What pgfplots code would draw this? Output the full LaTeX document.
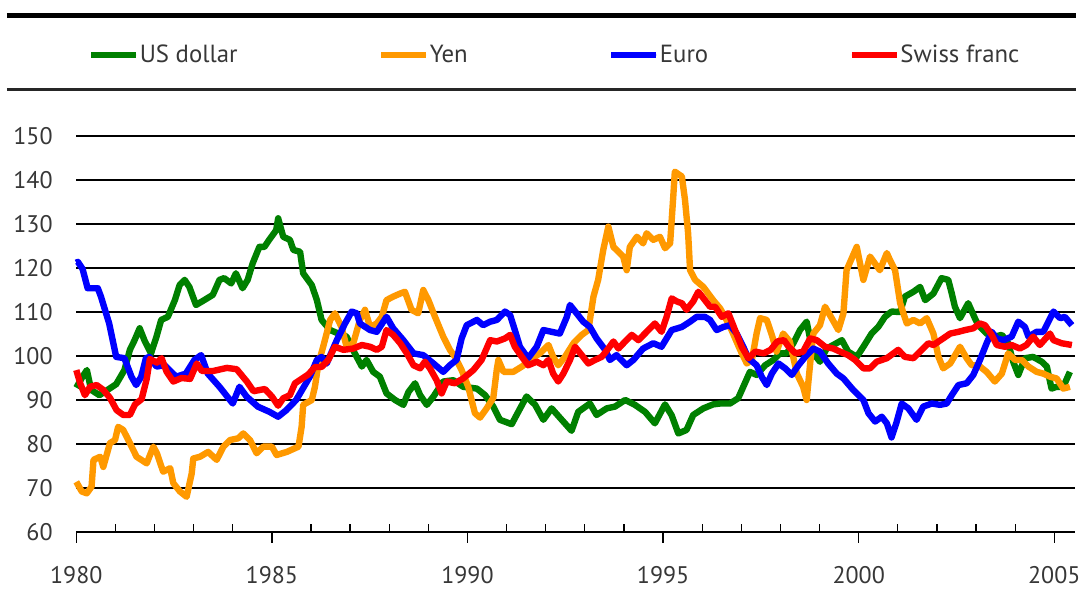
\documentclass[border=0pt]{standalone}
\usepackage{fontspec}
\setmainfont{PT Sans}
\usepackage{pgfplots}
\usepackage{pgfplotstable}
\pgfplotsset{compat=1.18}
\definecolor{usd}{RGB}{0,128,0}
\definecolor{yen}{RGB}{255,153,0}
\definecolor{eur}{RGB}{0,0,255}
\definecolor{chf}{RGB}{255,0,0}
\definecolor{txt}{RGB}{55,55,55}

\pgfplotstableread{
year value
1980.00 92.8
1980.16 95.3
1980.27 96.8
1980.38 92.3
1980.59 91.1
1980.80 92.3
1981.02 93.6
1981.23 96.8
1981.37 101.4
1981.49 103.6
1981.62 106.3
1981.74 103.6
1981.91 100.6
1982.05 104.4
1982.17 108.2
1982.34 108.9
1982.52 112.7
1982.64 116.1
1982.77 117.3
1982.89 115.7
1983.06 111.6
1983.27 112.7
1983.49 113.9
1983.66 117.3
1983.78 117.7
1983.96 116.5
1984.08 118.8
1984.25 115.4
1984.38 117.3
1984.51 121.1
1984.68 124.8
1984.81 124.8
1984.93 126.4
1985.11 128.6
1985.16 131.3
1985.29 127.1
1985.46 126.4
1985.55 124.1
1985.72 123.7
1985.80 118.8
1986.02 116.1
1986.15 112.7
1986.27 108.2
1986.49 105.9
1986.70 105.1
1986.91 104.4
1987.12 100.6
1987.30 97.6
1987.42 99.1
1987.59 96.4
1987.76 95.3
1987.93 91.5
1988.15 90.0
1988.36 88.9
1988.49 91.8
1988.66 93.8
1988.79 91.1
1988.96 88.9
1989.13 90.8
1989.38 94.2
1989.64 94.5
1989.89 93.0
1990.24 92.6
1990.45 91.1
1990.66 88.5
1990.83 85.5
1991.13 84.5
1991.34 88.0
1991.51 90.8
1991.73 88.9
1991.94 85.5
1992.15 88.1
1992.41 85.5
1992.66 83.0
1992.83 87.3
1993.13 89.2
1993.30 86.6
1993.56 88.1
1993.77 88.5
1994.03 90.0
1994.28 88.9
1994.54 87.3
1994.79 84.7
1995.05 89.0
1995.22 86.5
1995.39 82.4
1995.60 83.2
1995.77 86.6
1996.03 88.1
1996.28 89.0
1996.46 89.2
1996.71 89.2
1996.92 90.4
1997.05 93.0
1997.22 96.4
1997.39 95.7
1997.61 97.9
1997.82 99.1
1997.99 100.6
1998.16 100.6
1998.33 102.9
1998.50 105.9
1998.67 107.8
1998.80 102.1
1998.88 100.2
1999.01 98.7
1999.18 101.7
1999.35 102.5
1999.57 103.6
1999.73 101.0
1999.95 99.8
2000.12 102.1
2000.33 105.1
2000.50 106.6
2000.67 108.9
2000.84 110.1
2001.06 110.0
2001.18 113.5
2001.40 114.6
2001.57 115.7
2001.70 112.7
2001.91 114.2
2002.12 117.7
2002.29 117.3
2002.38 114.2
2002.46 111.2
2002.59 108.6
2002.80 112.0
2002.97 108.6
2003.06 107.0
2003.27 105.1
2003.48 104.4
2003.66 104.8
2003.82 102.9
2003.95 98.7
2004.08 95.7
2004.25 99.5
2004.46 99.8
2004.68 98.7
2004.81 97.6
2004.93 92.6
2005.06 93.0
2005.23 93.0
2005.40 96.4
}\usdtab

\pgfplotstableread{
year value
1980.00 71.4
1980.14 69.2
1980.27 68.8
1980.39 70.3
1980.44 76.4
1980.61 77.1
1980.69 74.8
1980.86 80.2
1980.99 80.9
1981.07 83.9
1981.20 83.2
1981.37 80.2
1981.54 77.1
1981.80 75.6
1981.97 79.4
1982.06 77.9
1982.22 73.7
1982.40 74.5
1982.48 71.1
1982.65 69.2
1982.82 68.0
1982.95 73.3
1982.99 76.7
1983.16 77.1
1983.37 78.2
1983.59 76.4
1983.76 79.4
1983.93 80.9
1984.14 81.3
1984.27 82.4
1984.44 80.9
1984.61 77.9
1984.78 79.4
1985.00 79.4
1985.12 77.5
1985.38 78.2
1985.68 79.4
1985.76 83.9
1985.80 88.9
1986.02 90.0
1986.10 93.0
1986.19 98.3
1986.31 102.1
1986.49 108.2
1986.61 109.7
1986.78 106.6
1986.91 102.1
1987.08 102.9
1987.25 108.2
1987.38 110.5
1987.51 106.6
1987.68 107.4
1987.81 108.9
1987.93 112.7
1988.10 113.5
1988.28 114.2
1988.40 114.6
1988.57 110.5
1988.74 109.7
1988.87 115.0
1989.00 112.7
1989.17 108.9
1989.38 104.4
1989.55 101.4
1989.68 99.8
1989.85 96.8
1990.02 93.0
1990.19 87.0
1990.32 86.0
1990.49 88.1
1990.66 90.5
1990.75 97.0
1990.79 99.1
1990.92 96.4
1991.17 96.4
1991.39 97.6
1991.60 99.1
1991.85 100.6
1992.07 102.5
1992.19 99.8
1992.32 97.9
1992.49 99.8
1992.71 102.9
1992.92 104.8
1993.09 105.9
1993.22 113.5
1993.34 117.3
1993.47 124.1
1993.60 129.4
1993.73 124.8
1993.98 122.6
1994.07 119.5
1994.15 124.8
1994.33 127.1
1994.49 125.6
1994.58 127.9
1994.75 126.4
1994.92 127.1
1995.05 124.5
1995.18 125.6
1995.26 136.2
1995.30 141.9
1995.48 140.8
1995.56 135.5
1995.64 127.9
1995.69 119.5
1995.82 117.3
1996.03 115.7
1996.28 112.7
1996.46 110.8
1996.58 108.9
1996.75 105.9
1996.97 101.4
1997.14 98.3
1997.27 99.1
1997.39 105.1
1997.48 108.6
1997.65 108.2
1997.78 104.8
1997.90 101.0
1998.07 105.1
1998.24 103.3
1998.42 96.0
1998.58 93.0
1998.67 90.0
1998.76 98.3
1998.84 105.1
1999.01 107.0
1999.14 111.2
1999.31 108.6
1999.48 105.9
1999.61 109.7
1999.69 119.5
1999.95 124.8
2000.12 117.3
2000.29 122.6
2000.54 119.5
2000.72 123.4
2000.80 121.8
2000.93 119.5
2001.06 112.0
2001.23 107.4
2001.40 108.2
2001.57 107.4
2001.74 108.6
2001.91 105.1
2002.04 99.8
2002.16 97.2
2002.34 98.3
2002.59 102.1
2002.76 99.5
2002.89 97.9
2003.06 97.9
2003.27 96.4
2003.48 94.2
2003.66 96.0
2003.82 100.6
2004.00 99.1
2004.17 99.1
2004.34 97.6
2004.55 96.4
2004.72 96.0
2004.89 95.3
2005.06 94.9
2005.23 92.6
2005.40 93.0
}\yentab

\pgfplotstableread{
year value
1980.00 121.2
1980.04 121.4
1980.16 119.8
1980.29 115.4
1980.55 115.4
1980.63 113.5
1980.84 107.4
1981.02 99.8
1981.23 99.5
1981.41 95.3
1981.53 93.4
1981.66 95.3
1981.78 99.5
1981.87 99.8
1982.05 97.6
1982.26 97.9
1982.47 96.0
1982.56 95.3
1982.80 96.0
1983.02 99.1
1983.19 100.2
1983.36 96.0
1983.66 93.0
1984.00 89.2
1984.17 93.0
1984.35 90.8
1984.64 88.5
1984.94 87.3
1985.16 86.2
1985.37 87.7
1985.62 90.0
1985.97 95.3
1986.15 99.1
1986.27 99.8
1986.40 98.3
1986.66 103.6
1986.87 107.4
1987.04 110.1
1987.17 109.7
1987.25 107.4
1987.51 105.9
1987.68 105.5
1987.93 108.9
1988.10 106.3
1988.36 103.6
1988.62 100.6
1988.87 100.2
1989.13 98.3
1989.38 96.4
1989.55 97.9
1989.72 99.1
1989.85 104.0
1989.98 107.0
1990.24 108.2
1990.40 107.0
1990.58 107.8
1990.75 108.2
1990.96 110.1
1991.09 109.3
1991.21 105.9
1991.34 102.1
1991.55 99.5
1991.77 102.1
1991.94 105.9
1992.15 105.5
1992.36 105.1
1992.54 108.9
1992.62 111.6
1992.79 109.7
1992.96 107.8
1993.13 106.6
1993.30 104.0
1993.52 101.4
1993.64 99.1
1993.81 100.2
1994.07 97.9
1994.24 99.1
1994.49 101.7
1994.75 102.9
1994.96 102.1
1995.22 105.9
1995.48 106.6
1995.69 107.8
1995.86 108.9
1996.07 108.9
1996.20 108.2
1996.37 105.9
1996.54 106.6
1996.71 107.0
1996.88 105.1
1997.05 102.1
1997.18 99.5
1997.39 97.9
1997.52 95.3
1997.65 93.4
1997.78 96.0
1997.95 98.3
1998.12 97.2
1998.29 95.7
1998.46 97.9
1998.67 100.2
1998.84 101.7
1999.01 101.0
1999.22 98.3
1999.44 96.0
1999.61 94.9
1999.86 92.3
2000.12 90.0
2000.25 87.0
2000.42 85.1
2000.59 86.2
2000.72 84.7
2000.84 81.5
2000.97 85.0
2001.10 89.2
2001.27 88.1
2001.48 85.5
2001.65 88.5
2001.87 89.2
2002.08 88.9
2002.25 89.2
2002.38 91.1
2002.55 93.4
2002.76 93.8
2002.93 95.7
2003.10 99.1
2003.27 102.9
2003.40 105.5
2003.53 104.0
2003.70 103.6
2003.91 104.4
2004.08 107.8
2004.25 106.6
2004.34 104.4
2004.55 105.5
2004.72 105.5
2004.98 110.1
2005.15 108.6
2005.27 108.9
2005.45 107.0
}\eurtab

\pgfplotstableread{
year value
1980.00 96.8
1980.10 93.8
1980.22 91.1
1980.35 93.0
1980.52 93.4
1980.69 92.3
1980.86 90.5
1981.03 87.7
1981.20 86.6
1981.37 86.6
1981.50 89.0
1981.67 90.2
1981.80 94.8
1981.88 99.3
1982.06 98.5
1982.18 99.5
1982.31 96.4
1982.48 94.2
1982.69 95.0
1982.91 94.8
1983.08 98.3
1983.21 96.6
1983.50 96.6
1983.85 97.3
1984.10 97.0
1984.36 94.2
1984.53 92.0
1984.82 92.5
1985.00 90.8
1985.16 88.7
1985.29 90.4
1985.46 91.1
1985.59 93.8
1985.76 94.8
1985.93 95.8
1986.10 97.5
1986.27 97.5
1986.44 99.1
1986.61 102.1
1986.83 101.4
1987.08 101.7
1987.30 102.5
1987.51 102.1
1987.68 101.4
1987.81 102.1
1987.93 105.9
1988.10 104.8
1988.28 102.9
1988.45 100.6
1988.62 97.9
1988.79 97.2
1988.91 98.7
1989.04 97.2
1989.21 94.5
1989.34 91.5
1989.47 94.2
1989.68 93.8
1989.89 94.9
1990.15 96.8
1990.36 99.1
1990.58 103.6
1990.75 103.3
1990.96 104.0
1991.09 104.8
1991.21 102.1
1991.39 99.8
1991.55 97.9
1991.77 98.7
1991.94 97.9
1992.07 99.1
1992.19 96.0
1992.32 94.2
1992.45 96.0
1992.62 99.1
1992.75 102.1
1992.92 100.2
1993.09 98.3
1993.26 99.1
1993.43 99.8
1993.60 101.7
1993.73 103.3
1993.86 101.7
1994.03 103.3
1994.20 104.8
1994.37 103.6
1994.58 105.5
1994.79 107.4
1994.96 105.5
1995.09 108.9
1995.22 113.1
1995.35 112.4
1995.48 112.0
1995.60 110.5
1995.77 112.4
1995.90 114.6
1996.07 112.7
1996.20 111.2
1996.33 111.2
1996.50 108.9
1996.67 109.7
1996.84 105.9
1997.01 102.1
1997.18 99.5
1997.36 101.0
1997.57 100.6
1997.75 101.4
1997.92 103.3
1998.09 103.6
1998.21 102.1
1998.39 100.6
1998.58 101.0
1998.76 104.0
1998.93 103.6
1999.14 102.1
1999.35 101.7
1999.52 101.0
1999.73 100.2
1999.91 99.1
2000.12 97.2
2000.29 97.2
2000.46 98.7
2000.72 99.5
2001.01 101.4
2001.18 99.8
2001.40 99.5
2001.57 101.0
2001.78 102.9
2001.91 102.5
2002.16 104.0
2002.34 105.1
2002.55 105.5
2002.72 105.9
2002.93 106.3
2003.10 107.4
2003.23 107.0
2003.40 104.8
2003.53 102.5
2003.74 102.1
2003.91 102.5
2004.12 101.7
2004.29 102.5
2004.46 104.4
2004.63 102.5
2004.89 105.1
2004.98 103.6
2005.19 102.9
2005.45 102.5
}\chftab

\begin{document}
\begin{tikzpicture}
\useasboundingbox (-38.15pt,-28.5pt) rectangle (502.35pt,266pt);
\begin{axis}[
  at={(0pt,0pt)}, anchor=south west,
  scale only axis, width=499.35pt, height=198pt,
  xmin=1980, xmax=2005.53, ymin=60, ymax=150,
  axis lines*=left,
  x axis line style={black, line width=0.65pt, -},
  y axis line style={draw=none},
  ytick={60,70,...,150},
  ymajorgrids,
  major grid style={black, line width=0.65pt},
  xtick={1980,1985,...,2005},
  minor x tick num=4,
  tick align=inside,
  major tick length=-5.5pt,
  minor tick length=4pt,
  ytick style={draw=none},
  major x tick style={black, line width=0.65pt},
  minor x tick style={black, line width=0.65pt},
  /pgf/number format/1000 sep={},
  /pgf/number format/assume math mode=true,
  ticklabel style={font=\fontsize{12}{14}\selectfont, text=txt},
  xticklabel style={anchor=north, inner sep=0pt, yshift=-16.8pt},
  yticklabel style={anchor=east, inner sep=0pt, xshift=-11.65pt},
  clip=false,
  legend columns=4,
  legend style={at={(axis description cs:0.0117,1.2045)}, anchor=west,
    draw=none, fill=none, inner sep=0pt, outer sep=0pt,
    font=\fontsize{12.4}{15}\selectfont, text=txt,
    nodes={inner sep=0.2pt},
    /tikz/every even column/.append style={column sep=70pt}},
  legend image code/.code={\path (0pt,0pt) -- (22.5pt,0pt);
    \draw[#1, line width=3pt, line cap=round] (1.5pt,0pt) -- (21pt,0pt);},
  every axis plot/.append style={line width=3.2pt, line join=round, no markers},
]
\addplot[usd] table[x=year, y=value] {\usdtab};
\addlegendentry{US dollar}
\addplot[yen] table[x=year, y=value] {\yentab};
\addlegendentry{Yen}
\addplot[eur] table[x=year, y=value] {\eurtab};
\addlegendentry{Euro}
\addplot[chf] table[x=year, y=value] {\chftab};
\addlegendentry{Swiss franc}
\end{axis}
\draw[line width=2.8pt, black] (-34.65pt,258.25pt) -- (499.85pt,258.25pt);
\draw[line width=1.2pt, black!85] (-34.65pt,221.25pt) -- (499.85pt,221.25pt);
\end{tikzpicture}
\end{document}
